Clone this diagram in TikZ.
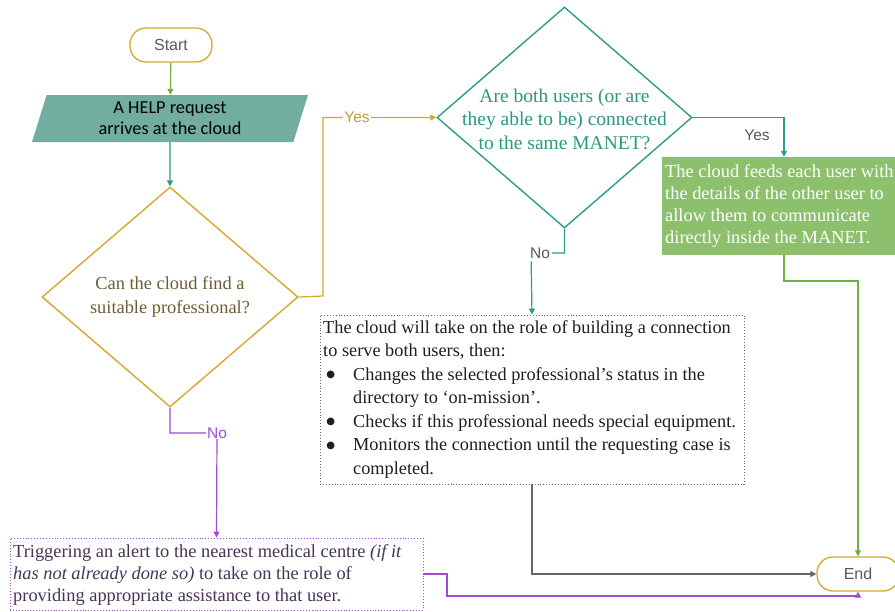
\documentclass[tikz,border=0pt]{standalone}
\usepackage{fontspec}
\setmainfont{Liberation Serif}
\newfontfamily\calibrifont{Carlito}
\newfontfamily\arialfont{Liberation Sans}
\newfontfamily\dejavufont{DejaVu Sans}
\usetikzlibrary{shapes.geometric,arrows.meta}
\definecolor{gold}{HTML}{D6A92E}
\definecolor{goldtext}{HTML}{C49A2A}
\definecolor{olivetext}{HTML}{6B5F35}
\definecolor{tealline}{HTML}{2E9C8A}
\definecolor{tealtext}{HTML}{2F9683}
\definecolor{tealfill}{HTML}{72AE9F}
\definecolor{greenfill}{HTML}{8DC06D}
\definecolor{greenline}{HTML}{6DB044}
\definecolor{purpleline}{HTML}{A24BD6}
\definecolor{purpletext}{HTML}{4A3358}
\definecolor{greyline}{HTML}{666666}
\definecolor{labelgrey}{HTML}{595959}
\newcommand{\bigbul}{\makebox[30pt][l]{\,\raisebox{2.2pt}{\dejavufont\fontsize{10}{10}\selectfont ●}}}
\tikzset{
  term/.style={draw=gold, line width=1.3pt, rounded corners=16pt, minimum width=82pt, minimum height=34pt,
    inner sep=0pt, font=\arialfont\fontsize{16}{19}\selectfont, text=labelgrey},
  decision/.style={diamond, line width=1.4pt, inner sep=0pt, minimum width=256pt, minimum height=220pt},
  dtext/.style={align=center, inner sep=0pt},
  lbl/.style={fill=white, inner sep=1pt, font=\arialfont\fontsize{15.5}{18}\selectfont},
  conn/.style={line width=1.2pt, -{Triangle[length=6pt,width=6pt]}}
}
\begin{document}
\begin{tikzpicture}[x=1pt,y=-1pt]
\useasboundingbox[fill=white] (0,0) rectangle (895,611);

% nodes
\node[term] (start) at (171,45) {Start};
\node[trapezium, trapezium left angle=66, trapezium right angle=114, trapezium stretches body=true,
  minimum width=276pt, minimum height=47pt, inner sep=0pt, fill=tealfill, align=center,
  font=\calibrifont\fontsize{18.3}{21}\selectfont, text=black] (req) at (170,118.5)
  {A HELP request\\arrives at the cloud};
\node[decision, draw=gold] (d1) at (170,297) {};
\node[dtext, text=olivetext, font=\fontsize{18.4}{23.5}\selectfont] (d1t) at (170,297) {Can the cloud find a\\suitable professional?};
\node[decision, draw=tealline, minimum width=255pt, minimum height=221pt] (d2) at (564.5,117.5) {};
\node[dtext, text=tealtext, font=\fontsize{19.5}{23.5}\selectfont] (d2t) at (564.5,119) {Are both users (or are\\they able to be) connected\\to the same MANET?};
\node[fill=greenfill, minimum width=244pt, minimum height=98pt, inner sep=0pt] (green) at (784,206) {};
\node[anchor=west, align=left, inner sep=0pt, text=white, font=\fontsize{18.4}{22}\selectfont] (greent) at (665,206)
  {The cloud feeds each user with\\the details of the other user to\\allow them to communicate\\directly inside the MANET.};
\node[draw=greyline, dotted, line width=0.9pt, minimum width=424pt, minimum height=169pt, inner sep=0pt] (cbox) at (532,399.5) {};
\node[anchor=north west, align=left, inner sep=0pt, text=black!88, font=\fontsize{18.3}{23.5}\selectfont] (cboxt) at (323,320)
  {The cloud will take on the role of building a connection\\
   to serve both users, then:\\
   \bigbul Changes the selected professional’s status in the\\
   \hspace*{30pt}directory to ‘on-mission’.\\
   \bigbul Checks if this professional needs special equipment.\\
   \bigbul Monitors the connection until the requesting case is\\
   \hspace*{30pt}completed.};
\node[draw=purpleline, dotted, line width=0.9pt, minimum width=413pt, minimum height=72pt, inner sep=0pt] (alert) at (216.5,574) {};
\node[anchor=west, align=left, inner sep=0pt, text=purpletext, font=\fontsize{18.4}{22}\selectfont] (alertt) at (13,575)
  {Triggering an alert to the nearest medical centre \textit{(if it}\\
   \textit{has not already done so)} to take on the role of\\
   providing appropriate assistance to that user.};
\node[term] (end) at (858,574) {End};

% coordinates
\coordinate (y1) at (323,296);
\coordinate (g1) at (784,281);
\coordinate (n2) at (531,253);
\coordinate (n1) at (217,433);
\coordinate (p1) at (447,596);

% connectors
\draw[conn, greenline] (start) -- (req);
\draw[conn, tealline] (req.south) -- (d1.north);
\draw[conn, gold] (d1.east) -- (y1) |- (d2.west) node[lbl, text=goldtext, pos=0.65] (yes1) {Yes};
\draw[conn, tealline] (d2.east) -| (green.north);
\node[lbl, text=labelgrey] (yes2) at (757,135) {Yes};
\draw[conn, greenline] (green.south) |- (g1) -| (end.north);
\draw[conn, tealline] (d2.south) |- (n2) -- (cbox.north);
\node[lbl, text=labelgrey, inner sep=2.5pt] (no2) at (540,253) {No};
\draw[conn, greyline] (cbox.south) |- (end.west);
\draw[conn, purpleline] (d1.south) |- (n1) -- (alert.north);
\node[lbl, text=purpleline] (no1) at (217,433) {No};
\draw[conn, purpleline] (alert.east) -| (p1) -| (end.south);
\end{tikzpicture}
\end{document}
